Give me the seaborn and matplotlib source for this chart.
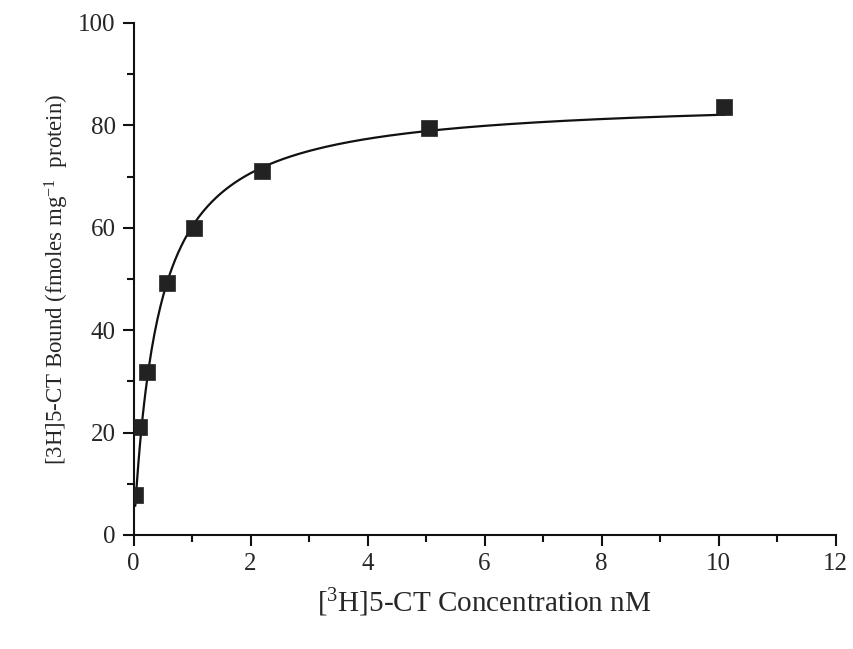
import numpy as np
import pandas as pd
import matplotlib
matplotlib.use("Agg")
import matplotlib.pyplot as plt
import seaborn as sns
from matplotlib.ticker import MultipleLocator

# saturation binding data
conc_nM = [0.03, 0.10, 0.235, 0.57, 1.03, 2.20, 5.05, 10.10]
bound = [7.8, 21.0, 31.8, 49.2, 60.0, 71.1, 79.4, 83.6]

# one-site fit parameters (as drawn)
bmax = 85.5
kd = 0.42

df = pd.DataFrame({'conc': conc_nM, 'bound': bound})
x_fit = np.linspace(min(conc_nM), max(conc_nM), 400)
fit = pd.DataFrame({'conc': x_fit, 'bound': bmax * x_fit / (kd + x_fit)})

sns.set_style('ticks')
plt.rcParams['font.family'] = ['Liberation Serif', 'DejaVu Serif']
plt.rcParams['mathtext.fontset'] = 'custom'
plt.rcParams['mathtext.rm'] = 'Liberation Serif'
plt.rcParams['mathtext.it'] = 'Liberation Serif:italic'

fig = plt.figure(figsize=(8.54, 6.49), dpi=100)
ax = fig.add_axes([0.1564, 0.1757, 0.8221, 0.7889])

sns.lineplot(data=fit, x='conc', y='bound', color='#111111', linewidth=1.6, ax=ax)
sns.scatterplot(data=df, x='conc', y='bound', marker='s', s=140, color='#222222',
                edgecolor='#222222', linewidth=0.5, ax=ax, zorder=3)

ax.set_xlim(0, 12)
ax.set_ylim(0, 100)
ax.xaxis.set_major_locator(MultipleLocator(2))
ax.xaxis.set_minor_locator(MultipleLocator(1))
ax.yaxis.set_major_locator(MultipleLocator(20))
ax.yaxis.set_minor_locator(MultipleLocator(10))
ax.tick_params(which='major', length=8, width=1.5, labelsize=18, pad=5, color='#111111')
ax.tick_params(which='minor', length=5, width=1.5, color='#111111')
for s in ['left', 'bottom']:
    ax.spines[s].set_linewidth(1.5)
    ax.spines[s].set_color('#111111')
sns.despine(ax=ax)

ax.set_xlabel('[$^{3}$H]5-CT Concentration nM', fontsize=21, labelpad=8)
ax.set_ylabel('[3H]5-CT Bound (fmoles mg$^{-1}$  protein)', fontsize=16.5, labelpad=5)

fig.savefig('out.png', dpi=100)
